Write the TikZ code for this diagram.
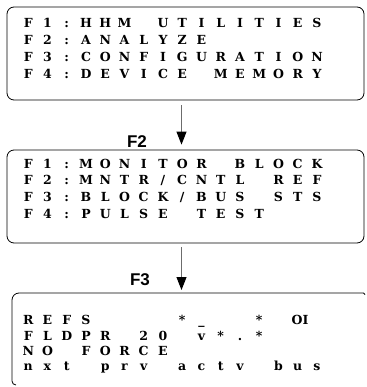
\documentclass[tikz,border=0pt]{standalone}
\usepackage{fontspec}
\setmainfont{Liberation Serif}
\newfontfamily\lcdfont{DejaVu Serif}
\newfontfamily\labfont{Liberation Sans}
\usetikzlibrary{arrows.meta}
\newlength\lcdpitch
\setlength\lcdpitch{19.25pt}
\makeatletter
\newcommand\lcdrow[1]{\@tfor\lcdch:=#1\do{\makebox[\lcdpitch][c]{\lcdch}}}
\makeatother
\tikzset{
  screen/.style={draw=black, line width=0.8pt, rounded corners=7pt, minimum width=357pt, minimum height=93pt, inner sep=0pt},
  lcdtext/.style={anchor=base west, inner sep=0pt, font=\lcdfont\bfseries\fontsize{12.5}{12.5}\selectfont},
  fkey/.style={inner sep=0pt, font=\labfont\bfseries\fontsize{17}{17}\selectfont},
  arr/.style={draw=gray!85!black, line width=1pt, -{Triangle[width=10pt,length=13pt,black]}}
}
\begin{document}
\begin{tikzpicture}[x=1pt,y=1pt]
\useasboundingbox (0,0) rectangle (366,-387);
% box 1
\node[screen] (b1) at (185.5,-53.5) {};
\node[lcdtext] (r11) at (18.4,-27.4) {\lcdrow{F1:HHM~UTILITIES}};
\node[lcdtext] (r12) at (18.4,-44.5) {\lcdrow{F2:ANALYZE}};
\node[lcdtext] (r13) at (18.4,-61.6) {\lcdrow{F3:CONFIGURATION}};
\node[lcdtext] (r14) at (18.4,-78.7) {\lcdrow{F4:DEVICE~MEMORY}};
% box 2
\node[screen] (b2) at (185.5,-196.5) {};
\node[fkey] (f2) at (137,-141.5) {F2};
\node[lcdtext] (r21) at (18.4,-168.0) {\lcdrow{F1:MONITOR~BLOCK}};
\node[lcdtext] (r22) at (18.4,-184.7) {\lcdrow{F2:MNTR/CNTL~REF}};
\node[lcdtext] (r23) at (18.4,-201.4) {\lcdrow{F3:BLOCK/BUS~STS}};
\node[lcdtext] (r24) at (18.4,-218.0) {\lcdrow{F4:PULSE~TEST}};
% box 3 (open at right)
\coordinate (b3) at (181.5,-293);
\draw[black, line width=0.8pt] (365,-294.5) arc[start angle=0, end angle=90, radius=1.5pt] -- (19,-293) arc[start angle=90, end angle=180, radius=7pt] -- (12,-381) arc[start angle=180, end angle=270, radius=4pt];
\node[fkey] (f3) at (140,-280) {F3};
\node[lcdtext] (r31) at (18.4,-324.7) {\lcdrow{REFS~~~~*\_~~*}};
\node[lcdtext, anchor=base] (oi) at (300,-324.7) {OI};
\node[lcdtext] (r32) at (18.4,-340.2) {\lcdrow{FLDPR~20~v*.*}};
\node[lcdtext] (r33) at (18.4,-355.7) {\lcdrow{NO~FORCE}};
\node[lcdtext] (r34) at (18.4,-370.2) {\lcdrow{nxt~prv~actv~bus}};
% arrows
\coordinate (ax) at (181.5,0);
\draw[arr, shorten <=5pt, shorten >=5pt] (b1.south -| ax) -- (b2.north -| ax);
\draw[arr, shorten <=4pt, shorten >=3pt] (b2.south -| ax) -- (b3);
\end{tikzpicture}
\end{document}
